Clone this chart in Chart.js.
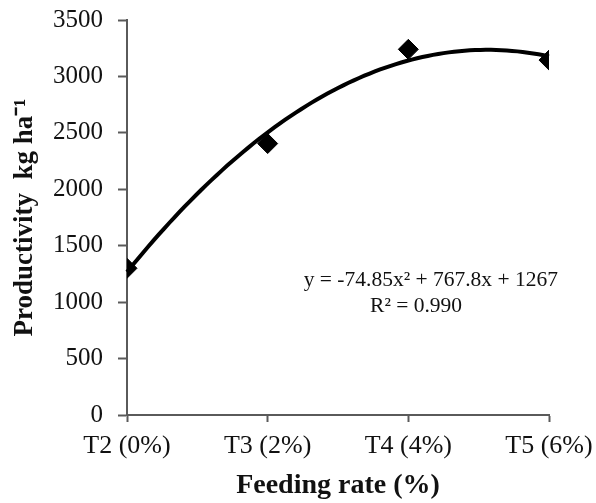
<!DOCTYPE html>
<html>
<head>
<meta charset="utf-8">
<script src="https://cdn.jsdelivr.net/npm/chart.js@4.4.0/dist/chart.umd.min.js"></script>
<style>
  html, body { margin: 0; padding: 0; background: #fff; }
  #wrap { width: 596px; height: 503px; position: relative; }
</style>
</head>
<body>
<div id="wrap"><canvas id="c" width="596" height="503"></canvas></div>
<script>
// ---- data ----
const categories = ['T2 (0%)', 'T3 (2%)', 'T4 (4%)', 'T5 (6%)'];
const feedingRates = [0, 2, 4, 6];
const productivity = [1300, 2405, 3240, 3145];
const yTicks = [0, 500, 1000, 1500, 2000, 2500, 3000, 3500];
const equationText = ['y = -74.85x² + 767.8x + 1267', 'R² = 0.990'];
const xTitle = 'Feeding rate (%)';
const yTitle = 'Productivity  kg ha⁻¹';

// quadratic least-squares fit of the data (polynomial trendline)
function quadFit(xs, ys) {
  const S = k => xs.reduce((a, x) => a + Math.pow(x, k), 0);
  const T = k => xs.reduce((a, x, i) => a + Math.pow(x, k) * ys[i], 0);
  const M = [[S(4), S(3), S(2), T(2)], [S(3), S(2), S(1), T(1)], [S(2), S(1), S(0), T(0)]];
  for (let i = 0; i < 3; i++) {
    for (let j = i + 1; j < 3; j++) {
      const f = M[j][i] / M[i][i];
      for (let k = i; k < 4; k++) M[j][k] -= f * M[i][k];
    }
  }
  const r = [0, 0, 0];
  for (let i = 2; i >= 0; i--) {
    let s = M[i][3];
    for (let k = i + 1; k < 3; k++) s -= M[i][k] * r[k];
    r[i] = s / M[i][i];
  }
  return r; // a, b, c
}
const coef = quadFit(feedingRates, productivity);

const FONT = "'Liberation Serif', 'Times New Roman', serif";
const AXIS = '#5a5a5a';

const trendPlugin = {
  id: 'trend',
  beforeDatasetsDraw(chart) {
    const {ctx, scales: {x, y}} = chart;
    const [a, b, c] = coef;
    ctx.save();
    ctx.beginPath();
    const x0 = feedingRates[0], x1 = feedingRates[feedingRates.length - 1];
    const n = 80;
    for (let i = 0; i <= n; i++) {
      const xv = x0 + (x1 - x0) * i / n;
      const yv = a * xv * xv + b * xv + c;
      const px = x.getPixelForValue(xv), py = y.getPixelForValue(yv);
      if (i === 0) ctx.moveTo(px, py); else ctx.lineTo(px, py);
    }
    ctx.strokeStyle = '#000';
    ctx.lineWidth = 4;
    ctx.lineJoin = 'round';
    ctx.stroke();
    ctx.restore();
  },
  afterDatasetsDraw(chart) {
    const {ctx, chartArea} = chart;
    const w = chartArea.right - chartArea.left, h = chartArea.bottom - chartArea.top;
    ctx.save();
    ctx.fillStyle = '#111';
    ctx.font = "21.5px " + FONT;
    ctx.textAlign = 'center';
    ctx.textBaseline = 'middle';
    ctx.fillText(equationText[0], chartArea.left + w * 0.72, chartArea.top + h * 0.66);
    ctx.fillText(equationText[1], chartArea.left + w * 0.685, chartArea.top + h * 0.725);
    ctx.restore();
  }
};

new Chart(document.getElementById('c'), {
  type: 'scatter',
  data: {
    datasets: [{
      data: feedingRates.map((xv, i) => ({x: xv, y: productivity[i]})),
      pointStyle: 'rectRot',
      pointRadius: 10,
      pointHoverRadius: 10,
      backgroundColor: '#000',
      borderColor: '#000',
      borderWidth: 1,
      showLine: false
    }]
  },
  options: {
    responsive: false,
    animation: false,
    events: [],
    layout: { padding: { left: 0, right: 47, top: 20, bottom: 0 } },
    plugins: { legend: { display: false }, tooltip: { enabled: false } },
    scales: {
      x: {
        type: 'linear',
        min: 0, max: 6,
        afterBuildTicks(s) { s.ticks = feedingRates.map(v => ({value: v})); },
        afterFit(s) { s.height = 88; s.paddingRight = 0; s.paddingLeft = 0; },
        grid: { display: true, drawOnChartArea: false, tickLength: 7, tickColor: AXIS, tickWidth: 2 },
        border: { display: true, color: AXIS, width: 2 },
        ticks: {
          color: '#111', padding: 9, maxRotation: 0, autoSkip: false,
          font: { family: FONT, size: 26 },
          callback: (v) => categories[feedingRates.indexOf(v)]
        },
        title: {
          display: true, text: xTitle, color: '#111',
          font: { family: FONT, size: 28, weight: 'bold', lineHeight: 1.1 },
          padding: { top: 0, bottom: 2 }
        }
      },
      y: {
        type: 'linear',
        min: 0, max: 3500,
        afterBuildTicks(s) { s.ticks = yTicks.map(v => ({value: v})); },
        afterFit(s) { s.width = 127; s.paddingTop = 0; s.paddingBottom = 0; },
        grid: { display: true, drawOnChartArea: false, tickLength: 9, tickColor: AXIS, tickWidth: 2 },
        border: { display: true, color: AXIS, width: 2 },
        ticks: {
          color: '#111', padding: 15,
          font: { family: FONT, size: 25 },
          callback: (v) => String(v)
        },
        title: {
          display: true, text: yTitle, color: '#111',
          font: { family: FONT, size: 27, weight: 'bold', lineHeight: 1.1 },
          padding: { top: 10, bottom: 0 }
        }
      }
    }
  },
  plugins: [trendPlugin]
});
</script>
</body>
</html>
